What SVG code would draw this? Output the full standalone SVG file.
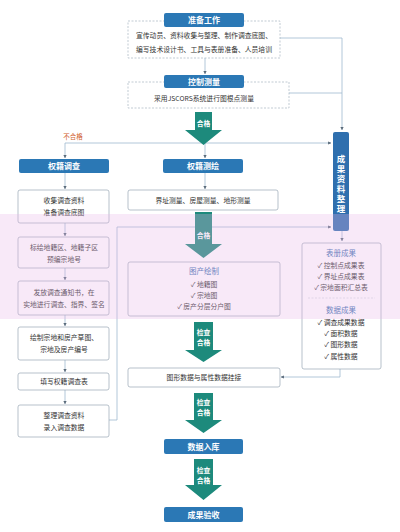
<svg xmlns="http://www.w3.org/2000/svg" width="400" height="532" viewBox="0 0 400 532">
<defs>
<marker id="ah" viewBox="0 0 6 6" refX="5.5" refY="3" markerWidth="4" markerHeight="4" orient="auto">
<path d="M0,0 L6,3 L0,6 Z" fill="#5a6b7a"/>
</marker>
<style>
text{font-family:"Noto Sans CJK SC","Noto Sans",sans-serif;}
.hd{fill:#2b78b5;}
.ht{fill:#fff;font-size:8px;font-weight:bold;text-anchor:middle;}
.bx{fill:#fff;stroke:#9aa7b4;stroke-width:0.7;}
.dx{fill:#fff;stroke:#a8b4c0;stroke-width:0.7;stroke-dasharray:2,1.5;}
.t{fill:#333;font-size:6.8px;text-anchor:middle;}
.st{fill:#3a6fb0;font-size:7.5px;text-anchor:middle;}
.cn{fill:none;stroke:#9fb9cf;stroke-width:0.8;}
.ar{marker-end:url(#ah);}
.tg{fill:#1d8a7c;}
.tt{fill:#fff;font-size:6.8px;font-weight:bold;text-anchor:middle;}
</style>
</defs>
<rect width="400" height="532" fill="#fff"/>

<g id="connectors">
<path class="cn" d="M280,38 H342 V130" marker-end="url(#ah)"/>
<path class="cn" d="M289,93 H342"/>
<path class="cn ar" d="M205,58 V74"/>
<path class="cn" d="M65,143 H331" marker-end="url(#ah)"/>
<path class="cn ar" d="M65,143 V158"/>
<path class="cn ar" d="M205,143 V158"/>
<path class="cn ar" d="M205,173 V189"/>
<path class="cn ar" d="M65,173 V189"/>
<path class="cn ar" d="M65,223 V236"/>
<path class="cn ar" d="M65,268 V280"/>
<path class="cn ar" d="M65,315 V326"/>
<path class="cn ar" d="M65,360 V372"/>
<path class="cn ar" d="M65,390 V404"/>
<path class="cn ar" d="M109,420 H117 V227 H331"/>
<path class="cn ar" d="M342,231 V241"/>
<path class="cn ar" d="M340,369 V377 H281"/>
<text x="73" y="139" font-size="6.5" fill="#d0602e" text-anchor="middle">不合格</text>
</g>

<g id="prep">
<rect class="dx" x="128" y="21" width="152" height="37"/>
<rect class="hd" x="164" y="13" width="80" height="14" rx="2"/>
<text class="ht" x="204" y="23">准备工作</text>
<text class="t" x="204" y="38">宣传动员、资料收集与整理、制作调查底图、</text>
<text class="t" x="204" y="52">编写技术设计书、工具与表册准备、人员培训</text>
</g>

<g id="control">
<rect class="dx" x="128" y="82" width="161" height="26"/>
<rect class="hd" x="164" y="75" width="80" height="13" rx="2"/>
<text class="ht" x="204" y="84.5">控制测量</text>
<text class="t" x="204" y="101">采用JSCORS系统进行图根点测量</text>
</g>

<g id="arrow1">
<path class="tg" d="M195,112 H212 V130 H222 L203.5,145 L185,130 H195 Z"/>
<text class="tt" x="203.5" y="126">合格</text>
</g>

<g id="survey-left">
<rect class="hd" x="19" y="159" width="90" height="14" rx="2"/>
<text class="ht" x="64" y="169">权籍调查</text>
<rect class="bx" x="18" y="190" width="91" height="33" rx="2"/>
<text class="t" x="64" y="203">收集调查资料</text>
<text class="t" x="64" y="215">准备调查底图</text>
<rect class="bx" x="18" y="237" width="91" height="31" rx="2"/>
<text class="t" x="64" y="250">标绘地籍区、地籍子区</text>
<text class="t" x="64" y="262">预编宗地号</text>
<rect class="bx" x="18" y="281" width="91" height="34" rx="2"/>
<text class="t" x="64" y="295">发放调查通知书，在</text>
<text class="t" x="64" y="307">实地进行调查、指界、签名</text>
<rect class="bx" x="18" y="327" width="91" height="33" rx="2"/>
<text class="t" x="64" y="340">绘制宗地和房产草图、</text>
<text class="t" x="64" y="352">宗地及房产编号</text>
<rect class="bx" x="18" y="373" width="91" height="17" rx="2"/>
<text class="t" x="64" y="384">填写权籍调查表</text>
<rect class="bx" x="18" y="405" width="91" height="32" rx="2"/>
<text class="t" x="64" y="418">整理调查资料</text>
<text class="t" x="64" y="430">录入调查数据</text>
</g>

<g id="survey-mid">
<rect class="hd" x="163" y="159" width="80" height="14" rx="2"/>
<text class="ht" x="203" y="169">权籍测绘</text>
<rect class="bx" x="128" y="190" width="150" height="20" rx="2"/>
<text class="t" x="203" y="202.5">界址测量、房屋测量、地形测量</text>
</g>

<g id="arrow2">
<path class="tg" d="M195,212 H212 V244 H222 L203.5,258 L185,244 H195 Z"/>
<text class="tt" x="203.5" y="238">合格</text>
</g>

<g id="drawing">
<rect class="bx" x="128" y="262" width="152" height="54" rx="2"/>
<text class="st" x="204" y="274">图产绘制</text>
<text class="t" x="204" y="287">✓ 地籍图</text>
<text class="t" x="204" y="298">✓ 宗地图</text>
<text class="t" x="204" y="309">✓ 房产分层分户图</text>
</g>

<g id="results-bar">
<rect x="333" y="132" width="16" height="99" rx="2" fill="#2f6fae"/>
<text x="341" y="155" fill="#fff" font-size="8.5" font-weight="bold" letter-spacing="1.5" style="writing-mode:vertical-rl">成果资料整理</text>
</g>

<g id="results">
<rect class="bx" x="302" y="243" width="79" height="126" rx="2"/>
<text class="st" x="341" y="256">表册成果</text>
<text class="t" x="341" y="268">✓ 控制点成果表</text>
<text class="t" x="341" y="279">✓ 界址点成果表</text>
<text class="t" x="341" y="290">✓ 宗地面积汇总表</text>
<line x1="308" y1="298" x2="375" y2="298" stroke="#c8d0d8" stroke-width="0.6" stroke-dasharray="2,1.5"/>
<text class="st" x="341" y="313">数据成果</text>
<text class="t" x="341" y="325">✓ 调查成果数据</text>
<text class="t" x="341" y="336">✓ 面积数据</text>
<text class="t" x="341" y="347">✓ 图形数据</text>
<text class="t" x="341" y="359">✓ 属性数据</text>
</g>

<g id="arrow3">
<path class="tg" d="M194,322 H213 V350 H222 L203.5,362 L185,350 H194 Z"/>
<text class="tt" x="203.5" y="335">检查</text>
<text class="tt" x="203.5" y="345">合格</text>
</g>

<g id="link">
<rect class="bx" x="128" y="368" width="152" height="19" rx="2"/>
<text class="t" x="204" y="380">图形数据与属性数据挂接</text>
</g>

<g id="arrow4">
<path class="tg" d="M194,393 H213 V420 H222 L203.5,433 L185,420 H194 Z"/>
<text class="tt" x="203.5" y="405">检查</text>
<text class="tt" x="203.5" y="415">合格</text>
</g>

<g id="db">
<rect class="hd" x="164" y="439" width="79" height="15" rx="2"/>
<text class="ht" x="203.5" y="449.5">数据入库</text>
</g>

<g id="arrow5">
<path class="tg" d="M194,459 H213 V485 H222 L203.5,500 L185,485 H194 Z"/>
<text class="tt" x="203.5" y="473">检查</text>
<text class="tt" x="203.5" y="483">合格</text>
</g>

<g id="accept">
<rect class="hd" x="164" y="507" width="79" height="15" rx="2"/>
<text class="ht" x="203.5" y="517.5">成果验收</text>
</g>

<rect x="0" y="214" width="400" height="105" fill="#e8b6e8" opacity="0.3"/>
</svg>
